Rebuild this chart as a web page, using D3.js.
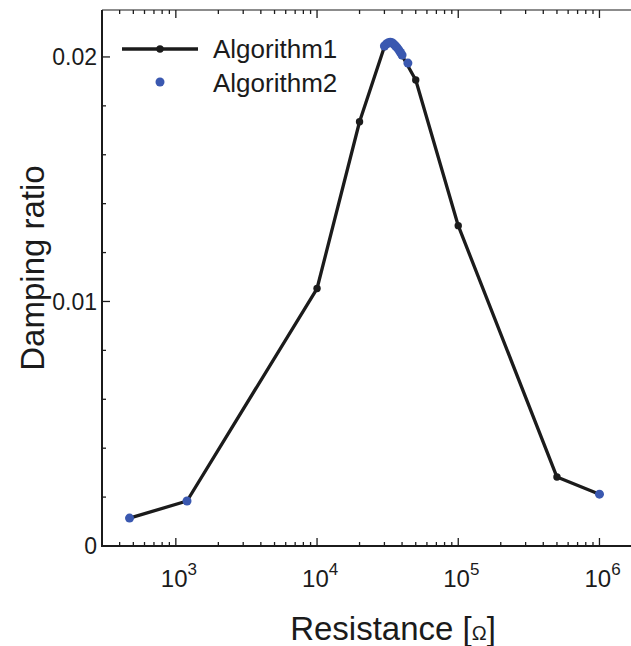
<!DOCTYPE html>
<html>
<head>
<meta charset="utf-8">
<script src="https://cdn.jsdelivr.net/npm/d3@7"></script>
<style>
  body { margin: 0; background: #fff; }
  svg { display: block; font-family: "Liberation Sans", Arial, sans-serif; }
</style>
</head>
<body>
<div id="chart"></div>
<script>
// Algorithm1: line with small black markers
var alg1R = [470, 1200, 1e4, 2e4, 3e4, 3.3e4, 4e4, 5e4, 1e5, 5e5, 1e6];
var alg1Zeta = [0.00114, 0.00184, 0.01053, 0.01735, 0.02042, 0.02061, 0.02006, 0.01906, 0.0131, 0.00282, 0.00212];

// Algorithm2: blue markers only
var alg2R = [470, 1200, 30000, 31000, 32000, 33000, 34000, 35000, 36000, 37000, 38000, 39000, 40000, 44000, 1e6];
var alg2Zeta = [0.00114, 0.00184, 0.02045, 0.02053, 0.02058, 0.0206, 0.02058, 0.02052, 0.02045, 0.02037, 0.02028, 0.02018, 0.02008, 0.01975, 0.00212];

var yTickLabels = ['0', '0.01', '0.02'];
var yTicks = [0, 0.01, 0.02];
var legendNames = ['Algorithm1', 'Algorithm2'];

var width = 631, height = 646;
var margin = {top: 10, right: 0, bottom: 100, left: 102};
var blue = '#3a58b0', ink = '#1b1b1b';

var svg = d3.select('#chart').append('svg')
  .attr('width', width)
  .attr('height', height);

var x = d3.scaleLog().domain([300, 1.7e6]).range([margin.left, 632]);
var y = d3.scaleLinear().domain([0, 0.02192]).range([546, margin.top]);

// minor / major ticks
var xMinor = x.ticks().filter(d => Math.abs(Math.log10(d) - Math.round(Math.log10(d))) > 1e-6);
var xMajor = [1e3, 1e4, 1e5, 1e6];
var yMinor = d3.range(0.002, 0.0219, 0.002).filter(d => Math.abs(d - 0.01) > 1e-6 && Math.abs(d - 0.02) > 1e-6);

var axes = svg.append('g').attr('stroke', ink).attr('stroke-width', 1.3);

// bottom axis
axes.append('line').attr('x1', margin.left).attr('x2', width).attr('y1', 546).attr('y2', 546).attr('stroke-width', 2);
axes.selectAll('.xmin').data(xMinor).enter().append('line')
  .attr('x1', d => x(d)).attr('x2', d => x(d)).attr('y1', 546).attr('y2', 542);
axes.selectAll('.xmaj').data(xMajor).enter().append('line')
  .attr('x1', d => x(d)).attr('x2', d => x(d)).attr('y1', 546).attr('y2', 538);

// top axis
axes.append('line').attr('x1', margin.left).attr('x2', width).attr('y1', margin.top).attr('y2', margin.top).attr('stroke-width', 1.2);
axes.selectAll('.xmint').data(xMinor).enter().append('line')
  .attr('x1', d => x(d)).attr('x2', d => x(d)).attr('y1', margin.top).attr('y2', margin.top + 4);
axes.selectAll('.xmajt').data(xMajor).enter().append('line')
  .attr('x1', d => x(d)).attr('x2', d => x(d)).attr('y1', margin.top).attr('y2', margin.top + 8);

// left axis
axes.append('line').attr('x1', margin.left).attr('x2', margin.left).attr('y1', margin.top).attr('y2', 547).attr('stroke-width', 2);
axes.selectAll('.ymin').data(yMinor).enter().append('line')
  .attr('x1', margin.left).attr('x2', margin.left + 4).attr('y1', d => y(d)).attr('y2', d => y(d));
axes.selectAll('.ymaj').data(yTicks).enter().append('line')
  .attr('x1', margin.left).attr('x2', margin.left + 8).attr('y1', d => y(d)).attr('y2', d => y(d));

// tick labels
svg.selectAll('.ylab').data(yTicks).enter().append('text')
  .attr('x', 97).attr('y', d => y(d)).attr('dy', '0.36em')
  .attr('text-anchor', 'end')
  .style('font-size', '23px').attr('fill', ink)
  .text((d, i) => yTickLabels[i]);

var xl = svg.selectAll('.xlab').data(xMajor).enter().append('text')
  .attr('x', d => x(d) - 15).attr('y', 587)
  .style('font-size', '24px').attr('fill', ink);
xl.append('tspan').text('10');
xl.append('tspan').attr('dy', -12).style('font-size', '17px').text(d => Math.round(Math.log10(d)));

// axis titles
svg.append('text')
  .attr('x', 393).attr('y', 640)
  .attr('text-anchor', 'middle')
  .style('font-size', '33px').attr('fill', ink)
  .text('Resistance [')
  .append('tspan').style('font-size', '20px').text('Ω')
  .append('tspan').style('font-size', '33px').text(']');

svg.append('text')
  .attr('transform', 'translate(44,268) rotate(-90)')
  .attr('text-anchor', 'middle')
  .style('font-size', '33px').attr('fill', ink)
  .text('Damping ratio');

// Algorithm1 line + markers
var line = d3.line().x(d => x(d[0])).y(d => y(d[1]));
var pts1 = alg1R.map((r, i) => [r, alg1Zeta[i]]);
svg.append('path').datum(pts1)
  .attr('d', line).attr('fill', 'none')
  .attr('stroke', ink).attr('stroke-width', 3.3).attr('stroke-linejoin', 'round');
svg.selectAll('.p1').data(pts1).enter().append('circle')
  .attr('cx', d => x(d[0])).attr('cy', d => y(d[1])).attr('r', 3.7).attr('fill', ink);

// Algorithm2 markers
var pts2 = alg2R.map((r, i) => [r, alg2Zeta[i]]);
svg.selectAll('.p2').data(pts2).enter().append('circle')
  .attr('cx', d => x(d[0])).attr('cy', d => y(d[1])).attr('r', 4.5).attr('fill', blue);

// legend
var lg = svg.append('g');
lg.append('line').attr('x1', 122).attr('x2', 198).attr('y1', 49).attr('y2', 49)
  .attr('stroke', ink).attr('stroke-width', 3.3);
lg.append('circle').attr('cx', 160).attr('cy', 49).attr('r', 3.7).attr('fill', ink);
lg.append('circle').attr('cx', 160).attr('cy', 82).attr('r', 4.5).attr('fill', blue);
lg.selectAll('text').data(legendNames).enter().append('text')
  .attr('x', 213).attr('y', (d, i) => 49 + i * 34).attr('dy', '0.36em')
  .style('font-size', '26px').attr('fill', ink)
  .text(d => d);
</script>
</body>
</html>
